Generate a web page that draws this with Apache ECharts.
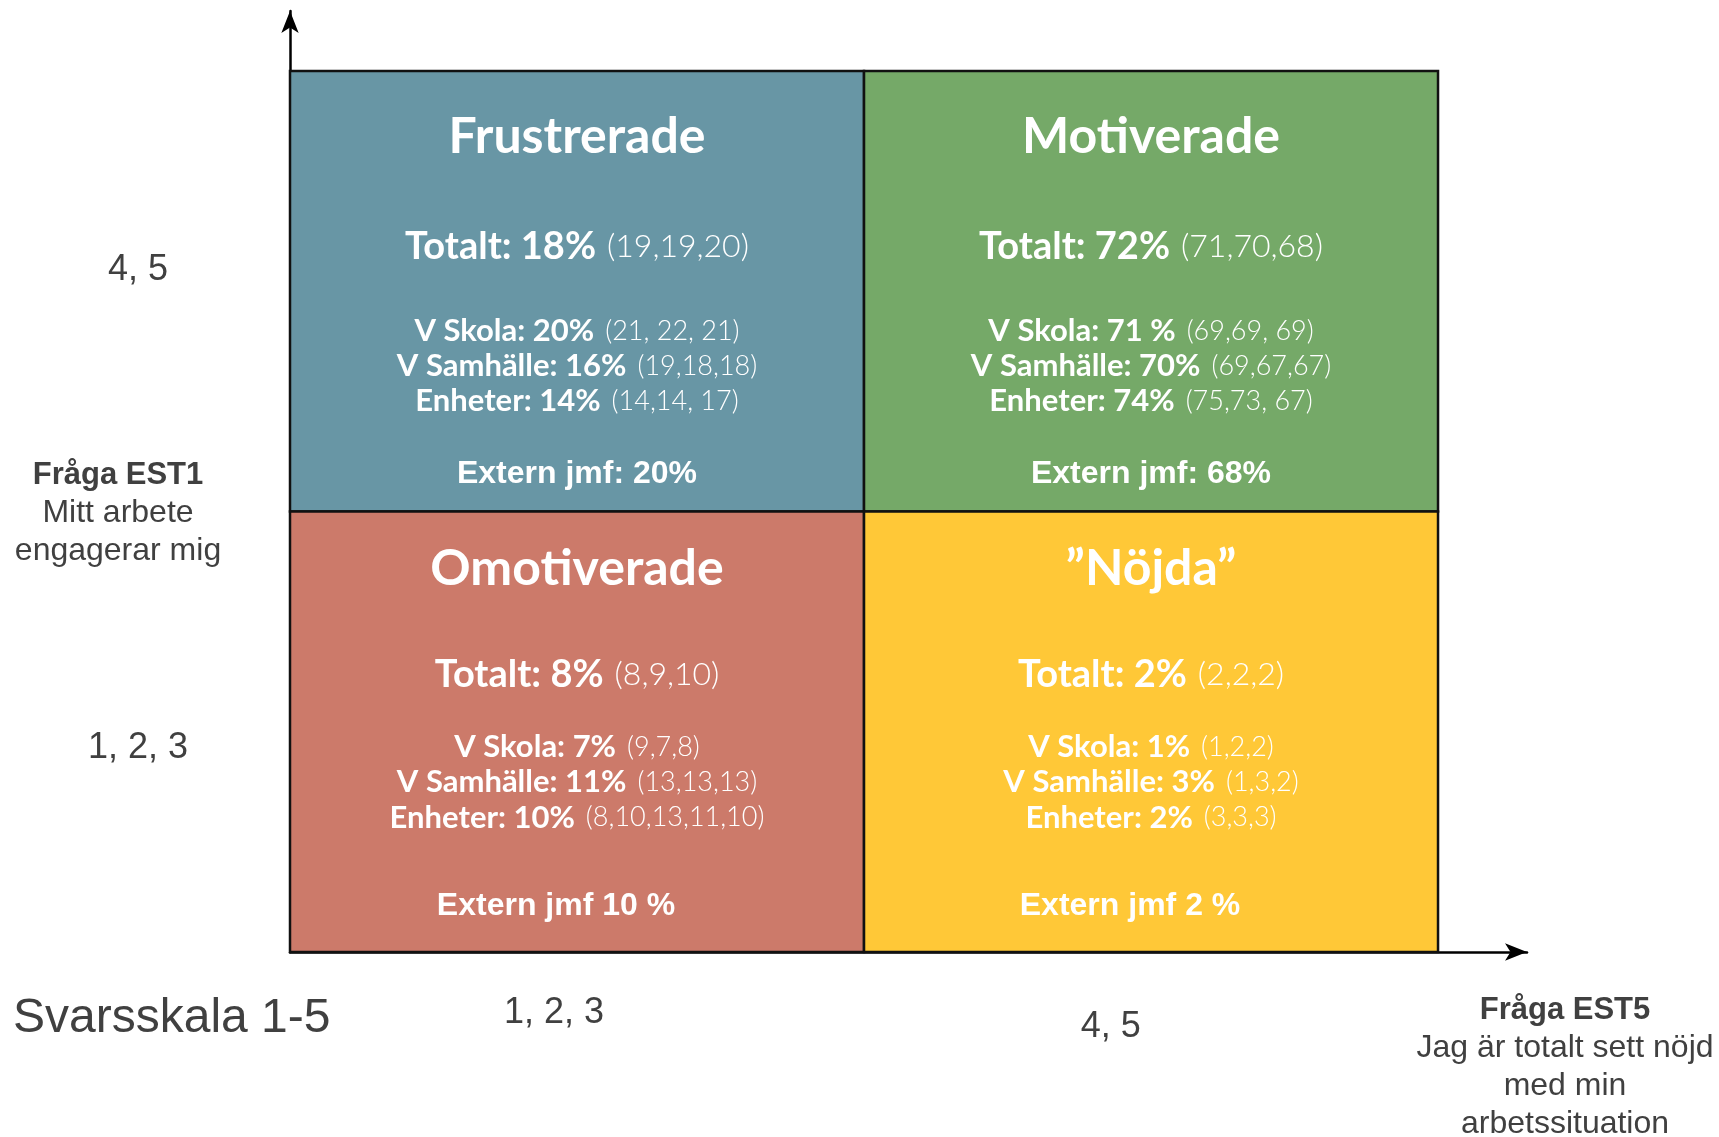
<!DOCTYPE html>
<html>
<head>
<meta charset="utf-8">
<title>Engagemang och nöjdhet</title>
<script src="https://cdn.jsdelivr.net/npm/echarts@6/dist/echarts.min.js"></script>
<style>
  html, body { margin: 0; padding: 0; background: #fff; }
  #main { width: 1719px; height: 1137px; }
</style>
</head>
<body>
<div id="main"></div>
<script type="text/javascript">
    // kvadranter: x = EST5-band (0 = 1,2,3 / 1 = 4,5), y = EST1-band
    var groupNames = ['Frustrerade', 'Motiverade', 'Omotiverade', '”Nöjda”'];
    var bandX = [0, 1, 0, 1];
    var bandY = [1, 1, 0, 0];
    var totals = ['18%', '72%', '8%', '2%'];
    var totalsPrev = ['19,19,20', '71,70,68', '8,9,10', '2,2,2'];
    var skola = ['20%', '71 %', '7%', '1%'];
    var skolaPrev = ['21, 22, 21', '69,69, 69', '9,7,8', '1,2,2'];
    var samhalle = ['16%', '70%', '11%', '3%'];
    var samhallePrev = ['19,18,18', '69,67,67', '13,13,13', '1,3,2'];
    var enheter = ['14%', '74%', '10%', '2%'];
    var enheterPrev = ['14,14, 17', '75,73, 67', '8,10,13,11,10', '3,3,3'];
    var extern = ['Extern jmf: 20%', 'Extern jmf: 68%', 'Extern jmf 10 %', 'Extern jmf 2 %'];
    var colors = ['#6896A5', '#75A968', '#CC7A6A', '#FFC837'];
    var scaleLabels = ['1, 2, 3', '4, 5'];

    var textColor = '#404040';
    var sans = '"Liberation Sans", Arial, sans-serif';
    var quadFont = 'Lato, "Open Sans", sans-serif';

    var myChart = echarts.init(document.getElementById('main'));

    var data = [];
    for (var i = 0; i < groupNames.length; i++) {
        data.push([bandX[i], bandY[i]]);
    }

    function txt(x, y, text) {
        return {
            type: 'text', x: x, y: y,
            style: { text: text, align: 'center', verticalAlign: 'middle', fill: '#fff', rich: rich }
        };
    }

    var rich = {
        t: { fontFamily: quadFont, fontWeight: 'bold', fontSize: 50, fill: '#fff' },
        tb: { fontFamily: quadFont, fontWeight: 'bold', fontSize: 38, fill: '#fff' },
        tl: { fontFamily: quadFont, fontWeight: 300, fontSize: 32, fill: '#fff' },
        db: { fontFamily: quadFont, fontWeight: 'bold', fontSize: 31, fill: '#fff' },
        dl: { fontFamily: quadFont, fontWeight: 300, fontSize: 27, fill: '#fff' },
        sp: { fontSize: 12, width: 11 },
        e: { fontFamily: sans, fontWeight: 'bold', fontSize: 32, fill: '#fff' }
    };

    // radernas textplacering (andel av cellhöjd): övre raden, nedre raden
    var rowLayout = {
        1: { title: 0.15, total: 0.40, first: 0.59, step: 0.08, ext: 0.915, extShift: 0 },
        0: { title: 0.13, total: 0.37, first: 0.535, step: 0.08, ext: 0.895, extShift: -21 }
    };

    myChart.setOption({
        animation: false,
        title: {
            text: 'Svarsskala 1-5',
            left: 8,
            top: 990,
            textStyle: { fontFamily: sans, fontSize: 48, fontWeight: 'normal', color: textColor }
        },
        grid: { left: 290, right: 192, top: 11, bottom: 185, containLabel: false, outerBoundsMode: 'none' },
        xAxis: {
            type: 'value', min: 0, max: 2.155,
            splitLine: { show: false },
            axisTick: { show: false },
            axisLine: {
                show: true, onZero: false,
                lineStyle: { color: '#000', width: 2.5 },
                symbol: ['none', 'arrow'], symbolSize: [13, 22]
            },
            axisLabel: {
                customValues: [0.46, 1.43],
                margin: 43,
                formatter: function (v) { return v < 1 ? '{a|' + scaleLabels[0] + '}' : '{b|' + scaleLabels[1] + '}'; },
                rich: {
                    a: { fontFamily: sans, fontSize: 36, color: textColor },
                    b: { fontFamily: sans, fontSize: 36, color: textColor, padding: [14, 0, 0, 0] }
                }
            },
            name: '{b|Fråga EST5}\nJag är totalt sett nöjd\nmed min\narbetssituation',
            nameLocation: 'end',
            nameGap: 38,
            nameMoveOverlap: false,
            nameTextStyle: {
                fontFamily: sans, fontSize: 32, color: textColor, lineHeight: 38,
                align: 'center', verticalAlign: 'top', padding: [39, 0, 0, 0],
                rich: { b: { fontFamily: sans, fontSize: 31, fontWeight: 'bold', color: textColor, lineHeight: 38 } }
            }
        },
        yAxis: {
            type: 'value', min: 0, max: 2.136,
            splitLine: { show: false },
            axisTick: { show: false },
            axisLine: {
                show: true, onZero: false,
                lineStyle: { color: '#000', width: 2.5 },
                symbol: ['none', 'arrow'], symbolSize: [13, 22]
            },
            axisLabel: {
                customValues: [0.462, 1.547],
                margin: 152,
                align: 'center',
                fontFamily: sans, fontSize: 36, color: textColor,
                formatter: function (v) { return v < 1 ? scaleLabels[0] : scaleLabels[1]; }
            },
            name: '{b|Fråga EST1}\nMitt arbete\nengagerar mig',
            nameLocation: 'middle',
            nameRotate: 0,
            nameGap: 172,
            nameMoveOverlap: false,
            nameTextStyle: {
                fontFamily: sans, fontSize: 32, color: textColor, lineHeight: 38,
                align: 'center', verticalAlign: 'middle', padding: [64, 0, 0, 0],
                rich: { b: { fontFamily: sans, fontSize: 31, fontWeight: 'bold', color: textColor, lineHeight: 38 } }
            }
        },
        series: [{
            type: 'custom',
            data: data,
            renderItem: function (params, api) {
                var i = params.dataIndex;
                var x0 = api.value(0), y0 = api.value(1);
                var tl = api.coord([x0, y0 + 1]);
                var br = api.coord([x0 + 1, y0]);
                var w = br[0] - tl[0], h = br[1] - tl[1];
                var cx = tl[0] + w / 2, top = tl[1];
                var L = rowLayout[y0];
                return {
                    type: 'group',
                    children: [
                        {
                            type: 'rect',
                            shape: { x: tl[0], y: tl[1], width: w, height: h },
                            style: { fill: colors[i], stroke: '#111', lineWidth: 2.5 }
                        },
                        txt(cx, top + h * L.title, '{t|' + groupNames[i] + '}'),
                        txt(cx, top + h * L.total, '{tb|Totalt: ' + totals[i] + '}{sp| }{tl|(' + totalsPrev[i] + ')}'),
                        txt(cx, top + h * L.first, '{db|V Skola: ' + skola[i] + '}{sp| }{dl|(' + skolaPrev[i] + ')}'),
                        txt(cx, top + h * (L.first + L.step), '{db|V Samhälle: ' + samhalle[i] + '}{sp| }{dl|(' + samhallePrev[i] + ')}'),
                        txt(cx, top + h * (L.first + 2 * L.step), '{db|Enheter: ' + enheter[i] + '}{sp| }{dl|(' + enheterPrev[i] + ')}'),
                        txt(cx + L.extShift, top + h * L.ext, '{e|' + extern[i] + '}')
                    ]
                };
            }
        }]
    });
</script>
</body>
</html>
